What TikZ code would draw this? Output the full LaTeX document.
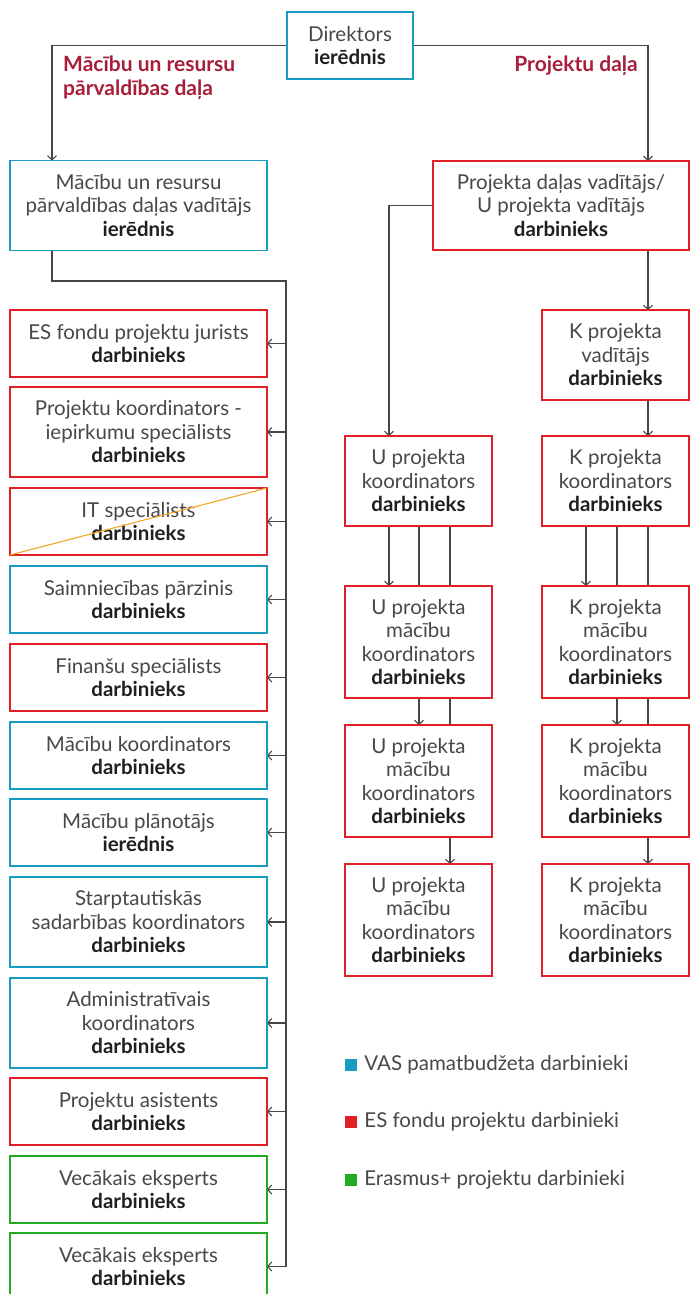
\documentclass[tikz,border=0pt]{standalone}
\usepackage{fontspec}
\setmainfont{Lato}
\usetikzlibrary{positioning,arrows.meta,backgrounds}

\definecolor{vascyan}{RGB}{22,158,192}
\definecolor{esred}{RGB}{224,32,38}
\definecolor{erasgreen}{RGB}{34,170,34}
\definecolor{titlered}{RGB}{168,30,58}
\definecolor{linegray}{RGB}{70,70,70}
\definecolor{textgray}{RGB}{72,72,72}
\definecolor{crossorange}{RGB}{245,165,40}

\newcommand{\amats}[1]{\textcolor{black!88}{\bfseries #1}}

\tikzset{
  box/.style={draw=#1,line width=1.3pt,fill=white,align=center,inner sep=0pt,outer sep=0pt,
    text=textgray,font=\fontsize{20.5}{23.5}\selectfont},
  lbox/.style={box=#1,minimum width=257pt,minimum height=67pt},
  rbox/.style={box=#1,minimum width=147pt,minimum height=90pt},
  tall/.style={minimum height=90pt},
  taller/.style={minimum height=112pt},
  conn/.style={draw=linegray,line width=1.1pt},
  title/.style={text=titlered,font=\fontsize{21}{24}\selectfont\bfseries,inner sep=0pt},
  legsq/.style={inner sep=0pt,minimum size=12pt},
  legtext/.style={text=textgray,font=\fontsize{20.5}{23.5}\selectfont,inner sep=0pt},
  >={Straight Barb[length=4pt,width=9pt]}
}

\begin{document}
\begin{tikzpicture}[x=1pt,y=-1pt]
    \useasboundingbox (0,0) rectangle (690,1294);

    % top
    \node[box=vascyan,minimum width=126pt,minimum height=67pt] (dir) at (350,45.5) {Direktors\\\amats{ierēdnis}};
    \node[lbox=vascyan,tall] (lhead) at (138.5,205.5) {Mācību un resursu\\pārvaldības daļas vadītājs\\\amats{ierēdnis}};
    \node[box=esred,minimum width=256pt,minimum height=89pt] (rhead) at (561,205.5) {Projekta daļas vadītājs/\\U projekta vadītājs\\\amats{darbinieks}};

    \node[title,align=left,anchor=west] (ltitle) at (63,78) {Mācību un resursu\\pārvaldības daļa};
    \node[title,anchor=east] (rtitle) at (638,66) {Projektu daļa};

    % left column
    \node[lbox=esred] (l1) at (138.5,343.5) {ES fondu projektu jurists\\\amats{darbinieks}};
    \node[lbox=esred,tall,below=10pt of l1] (l2) {Projektu koordinators -\\iepirkumu speciālists\\\amats{darbinieks}};
    \node[lbox=esred,below=11pt of l2] (l3) {IT speciālists\\\amats{darbinieks}};
    \node[lbox=vascyan,below=11pt of l3] (l4) {Saimniecības pārzinis\\\amats{darbinieks}};
    \node[lbox=esred,below=11pt of l4] (l5) {Finanšu speciālists\\\amats{darbinieks}};
    \node[lbox=vascyan,below=11pt of l5] (l6) {Mācību koordinators\\\amats{darbinieks}};
    \node[lbox=vascyan,below=10pt of l6] (l7) {Mācību plānotājs\\\amats{ierēdnis}};
    \node[lbox=vascyan,tall,below=11pt of l7] (l8) {Starptautiskās\\sadarbības koordinators\\\amats{darbinieks}};
    \node[lbox=vascyan,tall,below=11pt of l8] (l9) {Administratīvais\\koordinators\\\amats{darbinieks}};
    \node[lbox=esred,below=10pt of l9] (l10) {Projektu asistents\\\amats{darbinieks}};
    \node[lbox=erasgreen,below=11pt of l10] (l11) {Vecākais eksperts\\\amats{darbinieks}};
    \node[lbox=erasgreen,below=10pt of l11] (l12) {Vecākais eksperts\\\amats{darbinieks}};

    \draw[crossorange,line width=1.1pt] (l3.south west) -- (l3.north east);

    % right columns
    \node[rbox=esred] (kvad) at (615.5,355) {K projekta\\vadītājs\\\amats{darbinieks}};
    \node[rbox=esred] (ukoord) at (418.5,481) {U projekta\\koordinators\\\amats{darbinieks}};
    \node[rbox=esred,right=50pt of ukoord] (kkoord) {K projekta\\koordinators\\\amats{darbinieks}};
    \node[rbox=esred,taller,below=60pt of ukoord] (umac1) {U projekta\\mācību\\koordinators\\\amats{darbinieks}};
    \node[rbox=esred,taller,below=27pt of umac1] (umac2) {U projekta\\mācību\\koordinators\\\amats{darbinieks}};
    \node[rbox=esred,taller,below=27pt of umac2] (umac3) {U projekta\\mācību\\koordinators\\\amats{darbinieks}};
    \node[rbox=esred,taller,below=60pt of kkoord] (kmac1) {K projekta\\mācību\\koordinators\\\amats{darbinieks}};
    \node[rbox=esred,taller,below=27pt of kmac1] (kmac2) {K projekta\\mācību\\koordinators\\\amats{darbinieks}};
    \node[rbox=esred,taller,below=27pt of kmac2] (kmac3) {K projekta\\mācību\\koordinators\\\amats{darbinieks}};

    % legend
    \node[legsq,fill=vascyan] (lg1) at (351,1064.5) {};
    \node[legsq,fill=esred] (lg2) at (351,1122) {};
    \node[legsq,fill=erasgreen] (lg3) at (351,1179.5) {};
    \node[legtext,right=7pt of lg1] {VAS pamatbudžeta darbinieki};
    \node[legtext,right=7pt of lg2] {ES fondu projektu darbinieki};
    \node[legtext,right=7pt of lg3] {Erasmus+ projektu darbinieki};

    % line columns
    \coordinate (lx) at (52,0);
    \coordinate (bus) at (286,0);
    \coordinate (busturn) at (286,281);
    \coordinate (ux1) at (389,0);
    \coordinate (ux2) at (419,0);
    \coordinate (ux3) at (450,0);
    \coordinate (kx1) at (586,0);
    \coordinate (kx2) at (617,0);
    \coordinate (kx3) at (648,0);

    \begin{scope}[on background layer]
    \draw[conn,->] (dir.west) -| (lx |- lhead.north);
    \draw[conn,->] (dir.east) -| (kx3 |- rhead.north);
    \draw[conn] (lhead.south -| lx) |- (busturn) -- (bus |- l12.east);

    \path (bus |- l1.east) edge[conn,->] (l1.east);
    \path (bus |- l2.east) edge[conn,->] (l2.east);
    \path (bus |- l3.east) edge[conn,->] (l3.east);
    \path (bus |- l4.east) edge[conn,->] (l4.east);
    \path (bus |- l5.east) edge[conn,->] (l5.east);
    \path (bus |- l6.east) edge[conn,->] (l6.east);
    \path (bus |- l7.east) edge[conn,->] (l7.east);
    \path (bus |- l8.east) edge[conn,->] (l8.east);
    \path (bus |- l9.east) edge[conn,->] (l9.east);
    \path (bus |- l10.east) edge[conn,->] (l10.east);
    \path (bus |- l11.east) edge[conn,->] (l11.east);
    \path (bus |- l12.east) edge[conn,->] (l12.east);

    \draw[conn,->] (rhead.west) -| (ux1 |- ukoord.north);
    \path (rhead.south -| kx3) edge[conn,->] (kvad.north -| kx3);
    \path (kvad.south -| kx3) edge[conn,->] (kkoord.north -| kx3);

    \path (ukoord.south -| ux1) edge[conn,->] (umac1.north -| ux1);
    \path (ukoord.south -| ux2) edge[conn,->] (umac2.north -| ux2);
    \path (ukoord.south -| ux3) edge[conn,->] (umac3.north -| ux3);
    \path (kkoord.south -| kx1) edge[conn,->] (kmac1.north -| kx1);
    \path (kkoord.south -| kx2) edge[conn,->] (kmac2.north -| kx2);
    \path (kkoord.south -| kx3) edge[conn,->] (kmac3.north -| kx3);
    \end{scope}
\end{tikzpicture}
\end{document}
